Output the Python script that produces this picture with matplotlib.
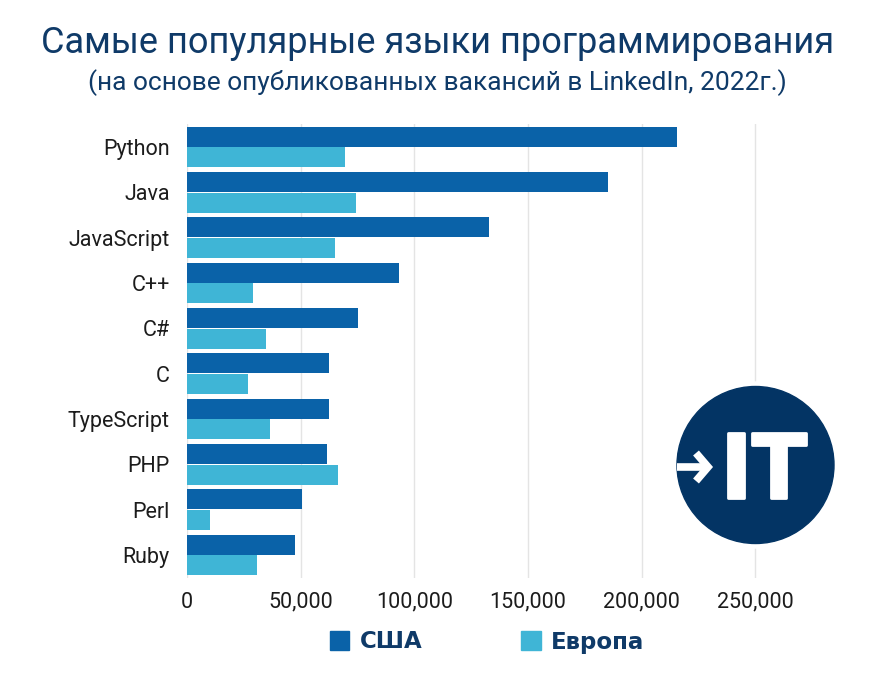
import matplotlib
matplotlib.use("Agg")
import matplotlib.pyplot as plt
import matplotlib.patheffects as pe
from matplotlib.patches import Circle, Patch
from matplotlib.lines import Line2D
from matplotlib.ticker import FuncFormatter

W, H = 884, 675

languages = ["Python", "Java", "JavaScript", "C++", "C#", "C", "TypeScript", "PHP", "Perl", "Ruby"]
usa_jobs = [215600, 185200, 132900, 93300, 75200, 62500, 62500, 61600, 50600, 47500]
europe_jobs = [69500, 74300, 65100, 29000, 34800, 26800, 36500, 66400, 10100, 30800]
x_ticks = [0, 50000, 100000, 150000, 200000, 250000]

NAVY = "#0f3a68"
USA_COLOR = "#0a62a8"
EUROPE_COLOR = "#3fb5d6"
LOGO_COLOR = "#033464"
LABEL_FONT = ["Roboto", "DejaVu Sans"]


def px(x, y):
    """Pixel position in the picture to figure fraction."""
    return x / W, 1 - y / H


fig = plt.figure(figsize=(W / 100, H / 100), dpi=100, facecolor="white")
ax = fig.add_axes([187 / W, 1 - 578 / H, (790 - 187) / W, (578 - 124) / H])

positions = list(range(len(languages)))
offset = 0.228
ax.barh([p - offset for p in positions], usa_jobs, height=0.44, color=USA_COLOR, zorder=3)
ax.barh([p + offset for p in positions], europe_jobs, height=0.44, color=EUROPE_COLOR, zorder=3)

ax.set_xlim(0, 265300)
ax.set_ylim(9.507, -0.507)
ax.set_yticks(positions, languages, fontfamily=LABEL_FONT, fontsize=15.5, color="#1c1c1c")
ax.set_xticks(x_ticks)
ax.xaxis.set_major_formatter(FuncFormatter(lambda v, _: f"{int(v):,}"))
for label in ax.get_xticklabels():
    label.set_fontfamily(LABEL_FONT)
    label.set_fontsize(15.5)
    label.set_color("#1c1c1c")
ax.tick_params(axis="both", length=0)
ax.tick_params(axis="x", pad=10)
ax.tick_params(axis="y", pad=12.5)
ax.grid(axis="x", color="#e4e4e4", linewidth=1.0, zorder=0)
for spine in ax.spines.values():
    spine.set_visible(False)

x, y = px(438, 43)
fig.text(x, y, "Самые популярные языки программирования", ha="center", va="center",
         fontfamily="Roboto", fontsize=26, color=NAVY)
x, y = px(437, 83)
fig.text(x, y, "(на основе опубликованных вакансий в LinkedIn, 2022г.)", ha="center", va="center",
         fontfamily="Roboto", fontsize=19, color=NAVY)

# legend
handles = [Patch(color=USA_COLOR), Patch(color=EUROPE_COLOR)]
fig.legend(handles, ["США", "Европа"], loc="center", bbox_to_anchor=px(487, 642), ncol=2,
           frameon=False, handlelength=0.85, handleheight=0.9, handletextpad=0.45,
           columnspacing=4.3, prop={"family": "DejaVu Sans", "weight": "bold", "size": 16.5},
           labelcolor=NAVY)

# logo
logo_ax = fig.add_axes([0, 0, 1, 1], facecolor="none")
logo_ax.set_xlim(0, W)
logo_ax.set_ylim(H, 0)
logo_ax.axis("off")
logo_ax.add_patch(Circle((755.5, 465), 83, color="white", zorder=1))
logo_ax.add_patch(Circle((755.5, 465), 78.5, color=LOGO_COLOR, zorder=2))
logo_text = logo_ax.text(765, 498, "IT", ha="center", va="baseline", fontfamily="Roboto",
                         fontweight="black", fontsize=66, color="white", zorder=3)
logo_text.set_path_effects([pe.withStroke(linewidth=2, foreground="white")])
logo_ax.add_line(Line2D([677, 708], [467, 467], color="white", linewidth=5.5,
                        solid_capstyle="butt", zorder=3))
logo_ax.add_line(Line2D([696, 708, 696], [453, 467, 481], color="white", linewidth=5.5,
                        solid_joinstyle="miter", solid_capstyle="butt", zorder=3))

fig.savefig("out.png", dpi=100)
